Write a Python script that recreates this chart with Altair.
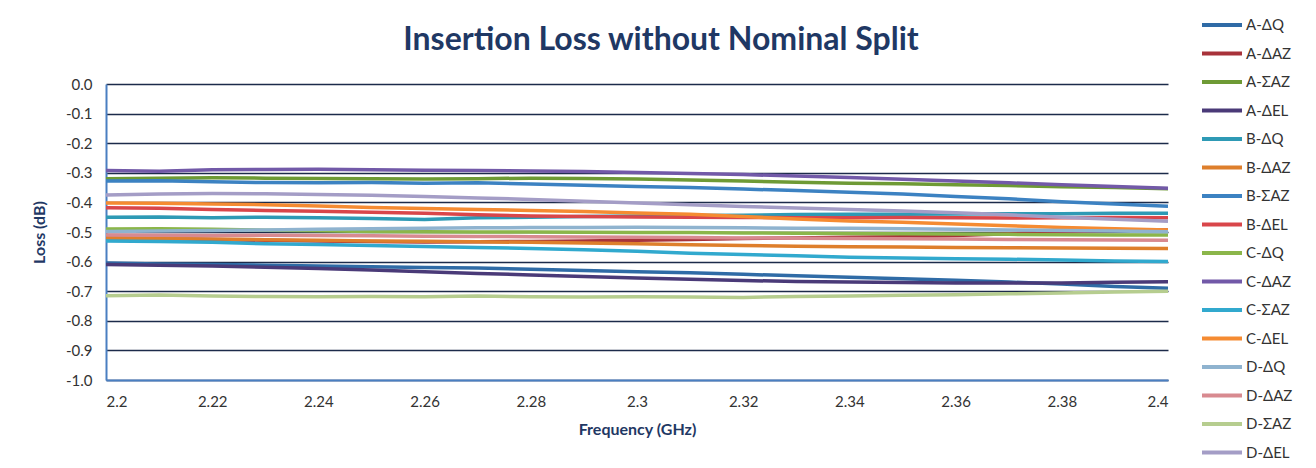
import altair as alt
import pandas as pd

# ---------------- data ----------------
freq = [2.20, 2.21, 2.22, 2.23, 2.24, 2.25, 2.26, 2.27, 2.28, 2.29, 2.30,
        2.31, 2.32, 2.33, 2.34, 2.35, 2.36, 2.37, 2.38, 2.39, 2.40]

series_names = ["A-ΔQ", "A-ΔAZ", "A-ΣAZ", "A-ΔEL",
                "B-ΔQ", "B-ΔAZ", "B-ΣAZ", "B-ΔEL",
                "C-ΔQ", "C-ΔAZ", "C-ΣAZ", "C-ΔEL",
                "D-ΔQ", "D-ΔAZ", "D-ΣAZ", "D-ΔEL"]

series_colors = ["#2F6BA6", "#A8323A", "#6E9A35", "#4A3A78",
                 "#2E9AB5", "#DE7F2C", "#3C82C2", "#D9464A",
                 "#8BB64A", "#7259A8", "#31A9CE", "#F58B32",
                 "#8FB3CF", "#D88A90", "#B6CD8F", "#A49DC6"]

a_dq = [-0.605, -0.608, -0.610, -0.612, -0.615, -0.617, -0.620, -0.622, -0.626, -0.630, -0.634,
        -0.638, -0.643, -0.648, -0.653, -0.658, -0.663, -0.669, -0.676, -0.684, -0.690]
a_daz = [-0.520, -0.522, -0.525, -0.528, -0.530, -0.532, -0.534, -0.533, -0.532, -0.530, -0.528,
         -0.525, -0.522, -0.520, -0.518, -0.516, -0.512, -0.506, -0.499, -0.495, -0.493]
a_saz = [-0.320, -0.318, -0.317, -0.318, -0.319, -0.320, -0.321, -0.320, -0.318, -0.319, -0.321,
         -0.324, -0.328, -0.332, -0.335, -0.337, -0.340, -0.343, -0.347, -0.350, -0.354]
a_del = [-0.610, -0.612, -0.615, -0.619, -0.623, -0.628, -0.634, -0.640, -0.645, -0.650, -0.655,
         -0.660, -0.664, -0.667, -0.669, -0.671, -0.672, -0.672, -0.672, -0.670, -0.668]
b_dq = [-0.450, -0.449, -0.452, -0.450, -0.452, -0.454, -0.458, -0.452, -0.450, -0.448, -0.446,
        -0.444, -0.443, -0.441, -0.440, -0.440, -0.439, -0.438, -0.438, -0.437, -0.437]
b_daz = [-0.520, -0.522, -0.524, -0.526, -0.528, -0.530, -0.531, -0.533, -0.535, -0.537, -0.540,
         -0.543, -0.546, -0.548, -0.550, -0.551, -0.552, -0.553, -0.554, -0.555, -0.556]
b_saz = [-0.328, -0.327, -0.330, -0.333, -0.334, -0.333, -0.335, -0.334, -0.338, -0.342, -0.346,
         -0.350, -0.355, -0.360, -0.366, -0.372, -0.380, -0.388, -0.398, -0.405, -0.413]
b_del = [-0.418, -0.420, -0.424, -0.427, -0.430, -0.433, -0.437, -0.442, -0.446, -0.448, -0.449,
         -0.450, -0.451, -0.452, -0.452, -0.451, -0.452, -0.453, -0.452, -0.451, -0.452]
c_dq = [-0.490, -0.489, -0.491, -0.494, -0.496, -0.498, -0.499, -0.500, -0.500, -0.501, -0.502,
        -0.502, -0.503, -0.504, -0.505, -0.506, -0.507, -0.508, -0.509, -0.510, -0.510]
c_daz = [-0.292, -0.295, -0.290, -0.289, -0.288, -0.290, -0.291, -0.292, -0.294, -0.296, -0.299,
         -0.302, -0.306, -0.311, -0.316, -0.322, -0.328, -0.334, -0.340, -0.346, -0.352]
c_saz = [-0.530, -0.532, -0.535, -0.540, -0.542, -0.546, -0.549, -0.552, -0.556, -0.560, -0.565,
         -0.572, -0.576, -0.580, -0.585, -0.588, -0.590, -0.592, -0.595, -0.598, -0.600]
c_del = [-0.402, -0.403, -0.405, -0.408, -0.412, -0.417, -0.421, -0.424, -0.427, -0.431, -0.436,
         -0.440, -0.448, -0.456, -0.463, -0.467, -0.473, -0.479, -0.485, -0.489, -0.493]
d_dq = [-0.498, -0.497, -0.495, -0.493, -0.491, -0.489, -0.487, -0.486, -0.485, -0.485, -0.484,
        -0.485, -0.486, -0.487, -0.487, -0.489, -0.491, -0.493, -0.495, -0.497, -0.499]
d_daz = [-0.510, -0.511, -0.512, -0.511, -0.512, -0.513, -0.514, -0.515, -0.516, -0.517, -0.518,
         -0.519, -0.520, -0.521, -0.522, -0.523, -0.524, -0.525, -0.526, -0.527, -0.528]
d_saz = [-0.715, -0.713, -0.716, -0.718, -0.719, -0.718, -0.719, -0.716, -0.719, -0.720, -0.719,
         -0.720, -0.721, -0.718, -0.716, -0.714, -0.712, -0.709, -0.706, -0.703, -0.700]
d_del = [-0.375, -0.372, -0.370, -0.371, -0.373, -0.376, -0.380, -0.385, -0.390, -0.396, -0.402,
         -0.408, -0.414, -0.419, -0.424, -0.429, -0.435, -0.442, -0.450, -0.457, -0.464]

series_values = [a_dq, a_daz, a_saz, a_del, b_dq, b_daz, b_saz, b_del,
                 c_dq, c_daz, c_saz, c_del, d_dq, d_daz, d_saz, d_del]

x_ticks = [2.20, 2.22, 2.24, 2.26, 2.28, 2.30, 2.32, 2.34, 2.36, 2.38, 2.40]
y_ticks = [0.0, -0.1, -0.2, -0.3, -0.4, -0.5, -0.6, -0.7, -0.8, -0.9, -1.0]

rows = []
for name, vals in zip(series_names, series_values):
    for f, v in zip(freq, vals):
        rows.append({"Frequency": f, "Loss": v, "Series": name})
df = pd.DataFrame(rows)

FONT = "Lato"
NAVY = "#1F3864"

chart = alt.Chart(df).mark_line(strokeWidth=3.5).encode(
    x=alt.X("Frequency:Q",
            scale=alt.Scale(domain=[2.2, 2.4], nice=False, zero=False),
            axis=alt.Axis(title="Frequency (GHz)", values=x_ticks, format=".2~f",
                          grid=False, ticks=False, labelPadding=14,
                          domainColor="#4A7FC1", domainWidth=2,
                          titlePadding=12)),
    y=alt.Y("Loss:Q",
            scale=alt.Scale(domain=[-1.0, 0.0], nice=False, zero=False),
            axis=alt.Axis(title="Loss (dB)", values=y_ticks,
                          labelExpr="replace(format(datum.value, '.1f'), '\u2212', '-')",
                          grid=True, gridColor="#1C2B4A", gridWidth=1.3,
                          ticks=False, labelPadding=14,
                          domainColor="#4A7FC1", domainWidth=2,
                          titlePadding=18)),
    color=alt.Color("Series:N",
                    scale=alt.Scale(domain=series_names, range=series_colors),
                    legend=alt.Legend(title=None, orient="none",
                                      legendX=1094, legendY=-70,
                                      symbolType="stroke", symbolSize=1600,
                                      symbolStrokeWidth=4, clipHeight=22,
                                      rowPadding=6.5, labelOffset=2, padding=0,
                                      labelFontSize=15, labelColor="#333333",
                                      labelFont=FONT)),
    detail="Series:N",
).properties(
    width=1062,
    height=296,
    title=alt.TitleParams("Insertion Loss without Nominal Split", fontSize=32,
                          font=FONT, fontWeight="bold", color=NAVY,
                          anchor="middle", frame="group", dx=24, dy=71, offset=28),
    autosize=alt.AutoSizeParams(type="none"),
    padding={"left": 98, "top": 76, "right": 140, "bottom": 80},
).configure_view(
    stroke=None
).configure_axis(
    labelFont=FONT, labelFontSize=15, labelColor="#333333",
    titleFont=FONT, titleFontSize=16, titleFontWeight="bold", titleColor=NAVY,
)

chart.save("out.html", embed_options={"renderer": "svg", "actions": False})
